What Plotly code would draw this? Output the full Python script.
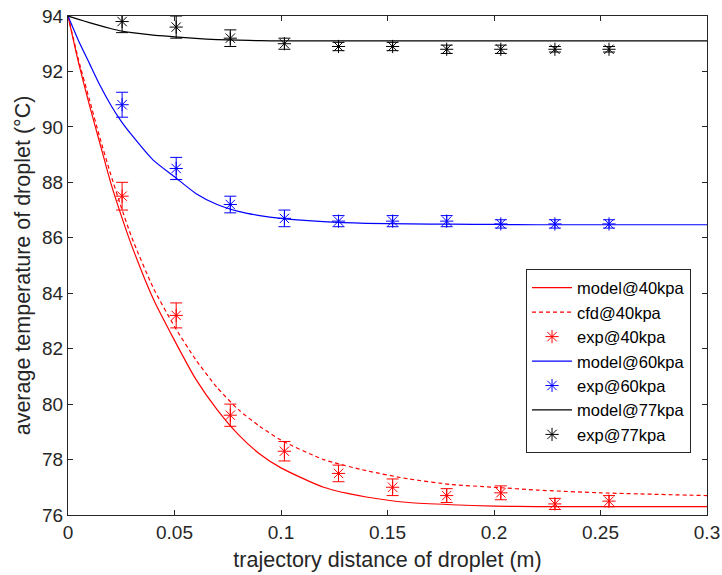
import plotly.graph_objects as go

# experimental positions (m)
x_exp = [0.0254, 0.0508, 0.0762, 0.1016, 0.127, 0.1524, 0.1778, 0.2032, 0.2286, 0.254]

exp40 = [87.5, 83.2, 79.6, 78.3, 77.5, 77.0, 76.7, 76.8, 76.4, 76.5]
err40 = [0.5, 0.45, 0.4, 0.35, 0.3, 0.3, 0.25, 0.25, 0.2, 0.2]
exp60 = [90.8, 88.5, 87.2, 86.7, 86.6, 86.6, 86.6, 86.5, 86.5, 86.5]
err60 = [0.45, 0.4, 0.3, 0.3, 0.2, 0.2, 0.2, 0.15, 0.15, 0.15]
exp77 = [93.8, 93.6, 93.2, 93.0, 92.9, 92.9, 92.8, 92.8, 92.8, 92.8]
err77 = [0.4, 0.4, 0.3, 0.2, 0.15, 0.15, 0.15, 0.15, 0.1, 0.1]

x_mod = [0, 0.005, 0.01, 0.015, 0.02, 0.025, 0.03, 0.04, 0.05, 0.06, 0.07, 0.08,
         0.09, 0.1, 0.12, 0.14, 0.16, 0.18, 0.2, 0.22, 0.25, 0.3]
model40 = [94, 92.3, 90.8, 89.4, 88.0, 86.8, 85.7, 83.8, 82.3, 80.9, 79.8, 78.9,
           78.2, 77.7, 77.0, 76.65, 76.45, 76.37, 76.32, 76.3, 76.3, 76.3]
cfd40 = [94, 92.4, 91.0, 89.6, 88.3, 87.1, 86.0, 84.2, 82.8, 81.6, 80.6, 79.8,
         79.2, 78.7, 78.0, 77.6, 77.3, 77.1, 77.0, 76.9, 76.8, 76.7]
model60 = [94, 93.1, 92.3, 91.5, 90.8, 90.2, 89.7, 88.8, 88.2, 87.6, 87.2, 86.95,
           86.8, 86.7, 86.58, 86.52, 86.5, 86.49, 86.48, 86.47, 86.47, 86.47]
model77 = [94, 93.88, 93.76, 93.65, 93.55, 93.46, 93.4, 93.31, 93.25, 93.19, 93.15, 93.13,
           93.11, 93.1, 93.1, 93.1, 93.1, 93.1, 93.1, 93.1, 93.1, 93.1]

xticks = [0, 0.05, 0.1, 0.15, 0.2, 0.25, 0.3]
xticklabels = ["0", "0.05", "0.1", "0.15", "0.2", "0.25", "0.3"]
yticks = [76, 78, 80, 82, 84, 86, 88, 90, 92, 94]

RED, BLUE, BLACK = "#ff0000", "#0000ff", "#000000"

fig = go.Figure()

def line(x, y, name, color, dash="solid"):
    fig.add_trace(go.Scatter(x=x, y=y, mode="lines", name=name,
                             line=dict(color=color, width=1.2, dash=dash, shape="spline", smoothing=0.6)))

def pts(x, y, e, name, color):
    fig.add_trace(go.Scatter(x=x, y=y, mode="markers", name=name,
                             marker=dict(symbol="asterisk-open", size=11, color=color,
                                         line=dict(color=color, width=1)),
                             error_y=dict(type="data", array=e, visible=True, color=color,
                                          thickness=1, width=6)))

line(x_mod, model40, "model@40kpa", RED)
line(x_mod, cfd40, "cfd@40kpa", RED, dash="4px,3px")
pts(x_exp, exp40, err40, "exp@40kpa", RED)
line(x_mod, model60, "model@60kpa", BLUE)
pts(x_exp, exp60, err60, "exp@60kpa", BLUE)
line(x_mod, model77, "model@77kpa", BLACK)
pts(x_exp, exp77, err77, "exp@77kpa", BLACK)

axis_common = dict(showgrid=False, zeroline=False, showline=True, linecolor="#262626",
                   linewidth=1, mirror="ticks", ticks="inside", ticklen=5, automargin=False,
                   tickcolor="#262626", tickfont=dict(size=19, color="#262626"))

fig.update_xaxes(range=[0, 0.3], tickvals=xticks, ticktext=xticklabels,
                 title=dict(text="trajectory distance of droplet (m)", font=dict(size=21.5, color="#262626"), standoff=10),
                 **axis_common)
fig.update_yaxes(range=[76, 94], tickvals=yticks,
                 title=dict(text="average temperature of droplet (°C)", font=dict(size=21.5, color="#262626"), standoff=5),
                 **axis_common)

fig.update_layout(
    width=722, height=575,
    margin=dict(l=68, r=15, t=16, b=60),
    paper_bgcolor="white", plot_bgcolor="white",
    font=dict(family="Liberation Sans, Arial, sans-serif", color="#262626"),
    legend=dict(x=0.975, y=0.492, xanchor="right", yanchor="top",
                bgcolor="white", bordercolor="#262626", borderwidth=1,
                font=dict(size=16.5, color="#000000"), tracegroupgap=0,
                itemwidth=40),
)

fig.write_html("out.html")
